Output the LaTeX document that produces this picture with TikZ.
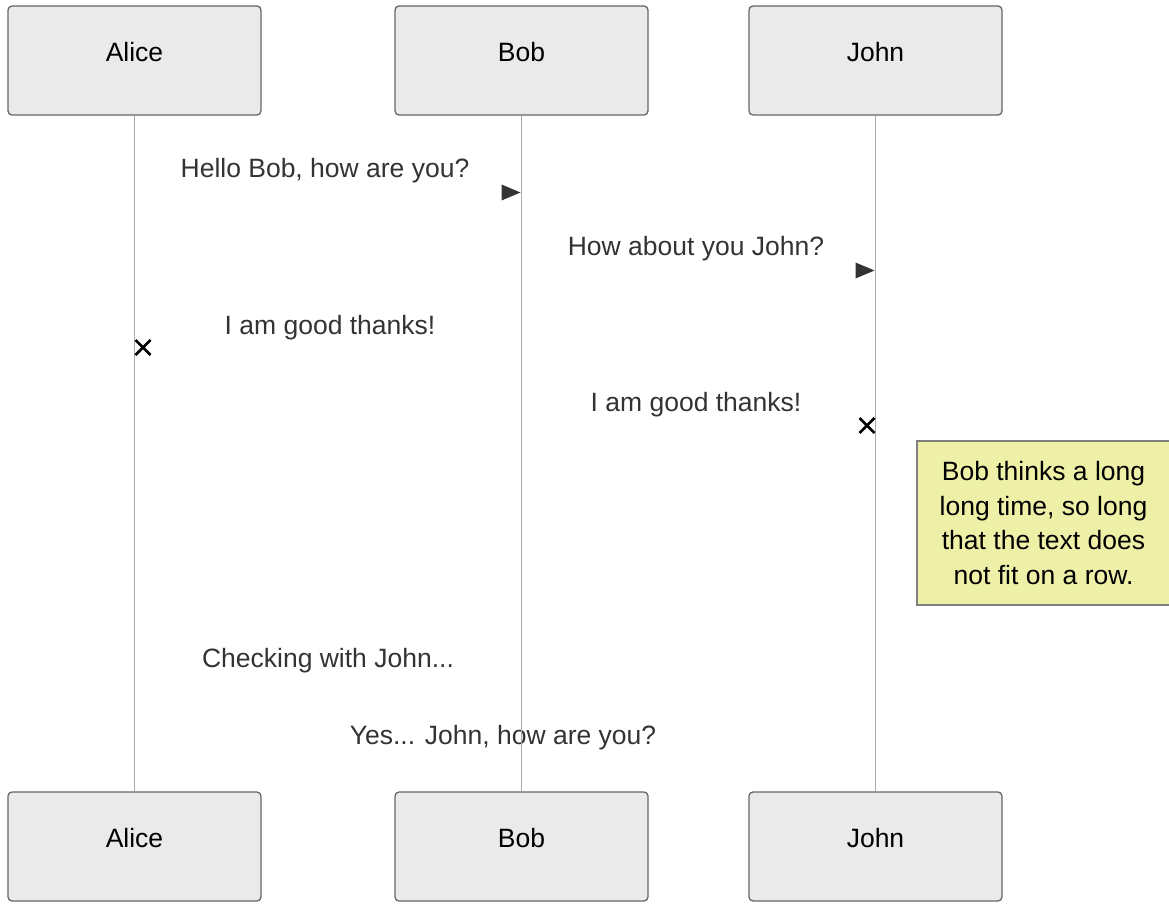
\documentclass[tikz,border=0pt]{standalone}
\usepackage{fontspec}
\setmainfont{Liberation Sans}
\usetikzlibrary{calc}
\begin{document}
\begin{tikzpicture}[x=1pt,y=-1pt,
  actor/.style={draw={rgb,255:red,102;green,102;blue,102},fill={rgb,255:red,234;green,234;blue,234},line width=1.3pt,rounded corners=4pt,minimum width=253pt,minimum height=109pt,inner sep=0pt},
  atext/.style={font=\fontsize{26.5}{32}\selectfont,text=black,inner sep=0pt},
  msg/.style={font=\fontsize{26.5}{32}\selectfont,text={rgb,255:red,51;green,51;blue,51},inner sep=0pt},
  life/.style={draw={rgb,255:red,170;green,170;blue,170},line width=1pt},
  headfill/.style={fill={rgb,255:red,51;green,51;blue,51}},
  xmark/.style={draw=black,line width=2.6pt},
  note/.style={draw={rgb,255:red,128;green,128;blue,128},fill={rgb,255:red,238;green,240;blue,168},line width=1.2pt,minimum width=253pt,minimum height=164pt,inner sep=0pt,align=center,font=\fontsize{26.5}{34.5}\selectfont,text=black}
]
\useasboundingbox (0,0) rectangle (1169,904);
% actor boxes
\node[actor] (at) at (134.5,60.5) {};
\node[actor] (bt) at (521.5,60.5) {};
\node[actor] (jt) at (875.5,60.5) {};
\node[actor] (ab) at (134.5,846.5) {};
\node[actor] (bb) at (521.5,846.5) {};
\node[actor] (jb) at (875.5,846.5) {};
\node[atext] (atl) at (134.5,52) {Alice};
\node[atext] (btl) at (521.5,52) {Bob};
\node[atext] (jtl) at (875.5,52) {John};
\node[atext] (abl) at (134.5,838) {Alice};
\node[atext] (bbl) at (521.5,838) {Bob};
\node[atext] (jbl) at (875.5,838) {John};
% messages
\node[msg] (m1) at (325,170.5) {Hello Bob, how are you?};
\node[msg] (m2) at (696,248.5) {How about you John?};
\node[msg] (m3) at (330,327.5) {I am good thanks!};
\node[msg] (m4) at (696,404.5) {I am good thanks!};
\node[msg] (m5) at (328,660.5) {Checking with John...};
\node[msg] (m6) at (503,737.5) {Yes... John, how are you?};
% lifelines
\draw[life] (at.south) -- (ab.north);
\draw[life] (bt.south) -- (bb.north);
\draw[life] (jt.south) -- (jb.north);
% note
\node[note] (n) at (1043.5,523) {Bob thinks a long\\long time, so long\\that the text does\\not fit on a row.};
% arrow heads
\coordinate (h1) at (520.5,192.5);
\coordinate (h2) at (874.5,270.5);
\fill[headfill] (h1) -- ++(-19,-8) -- ++(0,16) -- cycle;
\fill[headfill] (h2) -- ++(-19,-8) -- ++(0,16) -- cycle;
% crosses
\coordinate (x1) at (143,347.5);
\coordinate (x2) at (867,425.5);
\draw[xmark] ($(x1)+(-7.5,-7.5)$) -- ($(x1)+(7.5,7.5)$) ($(x1)+(-7.5,7.5)$) -- ($(x1)+(7.5,-7.5)$);
\draw[xmark] ($(x2)+(-7.5,-7.5)$) -- ($(x2)+(7.5,7.5)$) ($(x2)+(-7.5,7.5)$) -- ($(x2)+(7.5,-7.5)$);
\end{tikzpicture}
\end{document}
